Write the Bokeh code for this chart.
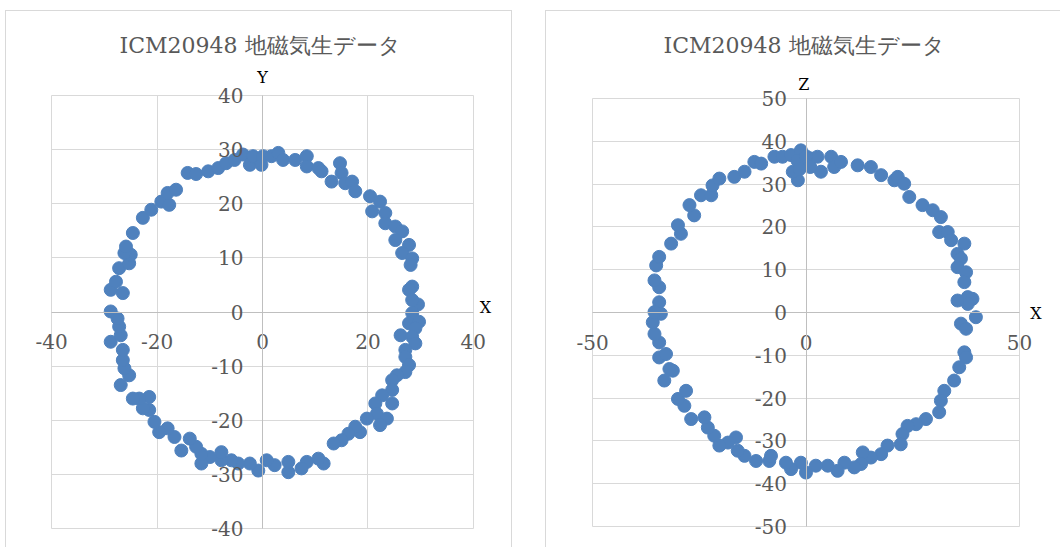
from bokeh.plotting import figure
from bokeh.models import Range1d, FixedTicker, Label, ColumnDataSource
from bokeh.layouts import row
from bokeh.embed import file_html
from bokeh.resources import INLINE

# ---------------- data ----------------
title_text = "ICM20948 地磁気生データ"

left_x = [-14.2, -12.6, -10.3, -8.4, -6.9, -5.3, -3.7, -2.4, -1.8, -0.2, 0.1, 1.7, 3.0, 3.9, 6.2,
          8.4, 8.4, 10.6, 11.2, 13.1, 14.7, 15.0, 15.7, 17.0, 17.6,
          20.4, 22.3, 20.8, 23.3, 23.3, 25.2, 26.5, 25.2, 27.8, 26.5, 28.4, 28.1, 28.4, 27.8, 29.5, 28.4,
          28.4, 27.8, 29.7, 29.0, 26.2, 28.4, 29.0, 27.1, 27.1, 27.8, 27.1, 25.5, 24.6, 24.6, 22.7,
          21.4, 24.6, 21.7, 23.6, 19.8, 22.3, 18.5, 17.6, 16.3, 15.0, 13.5,
          11.6, 10.6, 8.4, 7.4, 4.9, 4.9, 2.3, 0.8, -0.8, -2.4, -4.6, -5.9, -7.8, -7.8, -10.0, -11.6,
          -11.6, -12.6, -13.8, -15.4, -16.7, -18.0, -19.6, -20.5, -21.5, -22.7, -21.5, -23.4, -24.6,
          -26.9, -25.3, -26.2, -26.5, -26.5, -28.8, -26.9, -27.2, -27.5, -28.8,
          -26.5, -28.8, -27.8, -27.2, -25.3, -25.0, -26.2, -25.9, -24.6, -22.7, -21.1, -19.2, -17.7,
          -18.0, -16.4]
left_y = [25.7, 25.5, 26.0, 26.6, 27.5, 28.1, 29.1, 27.2, 28.8, 27.2, 28.8, 28.8, 29.4, 28.1, 28.1,
          28.8, 26.9, 26.6, 26.0, 24.1, 27.5, 25.7, 23.8, 24.1, 22.3,
          21.4, 20.4, 18.6, 18.3, 16.4, 15.8, 14.9, 13.3, 12.4, 10.9, 9.9, 8.7, 4.7, 4.1, 1.4, 2.2,
          -0.2, -2.1, -1.8, -3.0, -4.3, -4.6, -5.8, -7.0, -8.3, -9.8, -11.1, -11.7, -12.6, -14.4, -15.4,
          -16.9, -16.9, -18.8, -19.7, -19.7, -20.9, -22.2, -21.2, -22.5, -23.7, -24.3,
          -28.0, -27.1, -27.7, -28.9, -29.6, -27.7, -28.3, -27.4, -29.3, -28.0, -28.0, -27.4, -27.4,
          -25.9, -26.8, -28.0,
          -26.2, -24.9, -23.4, -25.6, -23.1, -21.5, -22.2, -20.3, -18.1, -17.8, -15.7, -16.0, -16.0,
          -13.5, -11.7, -10.4, -8.9, -7.0, -5.5, -4.3, -2.7, -1.2, 0.1,
          3.5, 4.1, 5.6, 8.1, 9.0, 10.6, 10.9, 12.1, 14.6, 17.4, 18.9, 20.4, 19.8,
          22.0, 22.6]

right_x = [-34.4, -34.4, -35.5, -35.1, -34.4, -31.6, -29.3, -30.0, -26.2, -27.3, -24.6, -22.2, -21.9,
           -20.3, -16.8, -14.4, -12.1, -10.5, -7.4, -5.5, -3.5, -1.9, -3.1, -1.2, -0.8, 1.2, 2.7, 3.5,
           5.9, 6.6, 8.2, -2.0, 0.0, 1.0, -1.5,
           12.1, 15.2, 17.6, 20.7, 21.5, 23.0, 24.2, 27.3, 29.7, 31.6, 31.2, 33.2, 34.0, 37.1, 35.5,
           36.3, 35.5, 37.5, 37.1, 37.9, 39.0,
           37.9, 35.5, 39.8, 36.3, 37.5, 37.1, 37.5, 35.9, 34.7, 32.4, 31.6, 31.2, 28.1, 25.8, 23.8,
           22.6, 22.2, 19.1, 17.6, 15.2, 13.3, 12.9, 11.3, 9.0, 7.4, 5.1, 2.3, 0.0, -1.2, -3.5, -4.7,
           -8.6, -8.2, -11.7, -14.4, -16.0, -16.4, -18.3, -20.3, -21.5, -23.0, -23.8, -26.9, -28.5,
           -30.0, -28.1, -33.2, -31.2, -32.0, -34.4, -32.8, -34.4, -35.5, -35.9, -34.0, -35.5]
right_z = [2.4, 5.9, 7.5, 11.0, 13.0, 16.1, 18.4, 20.4, 22.7, 25.1, 27.4, 27.4, 29.7,
           31.3, 31.7, 32.9, 35.2, 34.8, 36.4, 36.4, 36.8, 30.9, 32.9, 37.9, 34.8, 36.0, 36.4, 32.9,
           36.4, 34.0, 35.2, 35.5, 36.5, 34.0, 33.5,
           34.4, 34.0, 32.1, 30.9, 31.7, 30.1, 27.0, 25.1, 23.9, 22.3, 18.8, 18.8, 16.9, 16.1, 13.7,
           12.6, 10.6, 9.4, 7.1, 3.6, 3.2,
           2.0, 2.8, -1.1, -2.6, -3.8, -9.3, -10.5, -12.8, -15.9, -18.3, -20.6, -23.3, -24.9, -26.1, -26.5,
           -28.4, -30.8, -31.1, -33.1, -33.9, -32.7, -35.4, -36.2, -35.1, -37.0, -35.8, -35.8, -37.4,
           -35.1, -36.6, -35.1,
           -34.7, -33.5, -34.7, -33.5, -32.3, -29.2, -30.4, -31.1, -28.8, -26.9, -24.5, -24.9, -21.8,
           -20.2, -18.3, -15.9, -13.6, -13.2, -10.5, -9.7, -7.0, -5.0, -2.3, -0.3, 0.1]

left_xticks = [-40, -20, 0, 20, 40]
left_yticks = [-40, -30, -20, -10, 0, 10, 20, 30, 40]
right_xticks = [-50, 0, 50]
right_yticks = [-50, -40, -30, -20, -10, 0, 10, 20, 30, 40, 50]

# ---------------- style / layout ----------------
SERIF = "DejaVu Serif"
MARK = "#4f81bd"
GRID = "#d9d9d9"
AXIS = "#bfbfbf"
TXT = "#595959"
BORDER = "1px solid #d9d9d9"

TOP_PANEL = 56      # space above the (extended) frame for the title
CONTENT_TOP = 11    # page y of the first content pixel (row margin 10 + 1px border)
CONTENT_H = 536


def ext_range(v0, v1, px0, px1, f0, f1):
    """Range whose inner values v0..v1 land on pixels px0..px1 of a frame spanning f0..f1."""
    k = (v1 - v0) / (px1 - px0)
    return Range1d(v0 - (px0 - f0) * k, v1 + (f1 - px1) * k)


def make_chart(xs, ys, lim, xticks, yticks, xname, yname, xname_pos, yname_pos,
               content_left, content_w, plot_px, css):
    frame_top = CONTENT_TOP + TOP_PANEL
    frame_bottom = CONTENT_TOP + CONTENT_H
    pl, pr, pt, pb = plot_px
    xr = ext_range(-lim, lim, pl, pr, content_left, content_left + content_w)
    yr = ext_range(-lim, lim, pb, pt, frame_bottom, frame_top)

    p = figure(frame_width=content_w, frame_height=frame_bottom - frame_top,
               x_range=xr, y_range=yr,
               output_backend="svg", toolbar_location=None,
               min_border_left=0, min_border_right=0,
               min_border_top=TOP_PANEL, min_border_bottom=0,
               styles=css)
    p.title.text = title_text
    p.title.align = "center"
    p.title.text_font = SERIF
    p.title.text_font_size = "22px"
    p.title.text_font_style = "normal"
    p.title.text_color = TXT
    p.title.standoff = 20
    p.outline_line_color = None

    p.xaxis.ticker = FixedTicker(ticks=xticks)
    p.yaxis.ticker = FixedTicker(ticks=yticks)
    p.xaxis.major_label_overrides = {v: str(v) for v in xticks}
    p.yaxis.major_label_overrides = {v: str(v) for v in yticks}
    for ax in (p.xaxis, p.yaxis):
        ax.fixed_location = 0
        ax.bounds = (-lim, lim)
        ax.axis_line_color = AXIS
        ax.major_tick_in = 0
        ax.major_tick_out = 0
        ax.minor_tick_in = 0
        ax.minor_tick_out = 0
        ax.major_tick_line_color = None
        ax.minor_tick_line_color = None
        ax.major_label_text_font = SERIF
        ax.major_label_text_font_size = "20px"
        ax.major_label_text_color = TXT
    p.xaxis.major_label_standoff = 22
    p.yaxis.major_label_standoff = 19

    p.xgrid.ticker = FixedTicker(ticks=xticks)
    p.ygrid.ticker = FixedTicker(ticks=yticks)
    for g in (p.xgrid, p.ygrid):
        g.grid_line_color = GRID
        g.bounds = (-lim, lim)
        g.cross_bounds = (-lim, lim)

    src = ColumnDataSource(dict(x=xs, y=ys))
    p.scatter("x", "y", source=src, size=13, fill_color=MARK, line_color=MARK)

    for txt, pos in ((xname, xname_pos), (yname, yname_pos)):
        p.add_layout(Label(x=pos[0], y=pos[1], text=txt, text_font=SERIF,
                           text_font_size="16px", text_color="black",
                           text_align="center", text_baseline="middle"))
    return p


p1 = make_chart(left_x, left_y, 40, left_xticks, left_yticks,
                "X", "Y", (42.3, 0.9), (0.0, 43.3),
                6, 505, (51, 471, 95, 527),
                {"border-left": BORDER, "border-top": BORDER, "border-right": BORDER})
p2 = make_chart(right_x, right_z, 50, right_xticks, right_yticks,
                "X", "Z", (53.9, -0.2), (-0.5, 53.2),
                546, 514, (592, 1018, 98, 525),
                {"border-left": BORDER, "border-top": BORDER})

layout = row(p1, p2, spacing=33, margin=(10, 0, 0, 5))
open("out.html", "w").write(file_html(layout, INLINE))
